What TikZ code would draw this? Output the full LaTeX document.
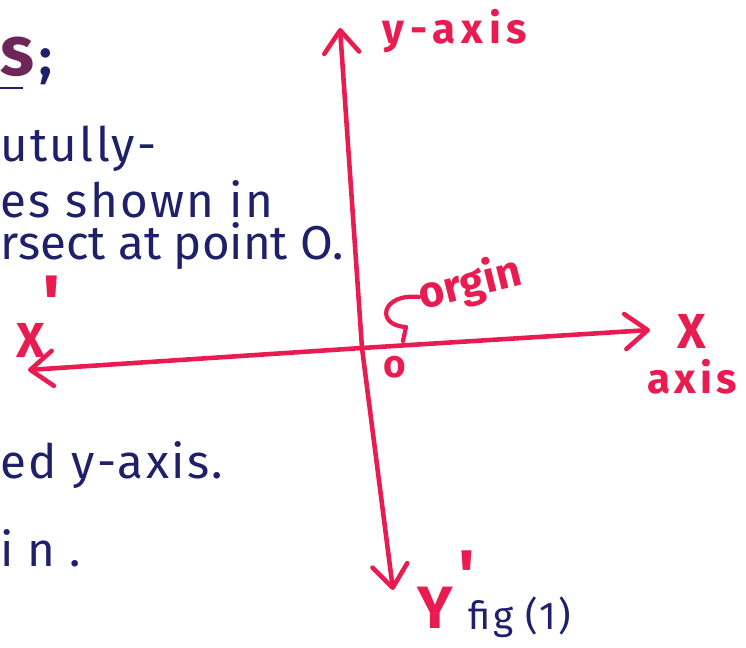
\documentclass[tikz,border=0pt]{standalone}
\usepackage{fontspec}
\setmainfont{Fira Sans}
\definecolor{inkred}{RGB}{232,28,80}
\definecolor{inkblue}{RGB}{30,32,105}
\definecolor{inkplum}{RGB}{110,38,88}
\usetikzlibrary{arrows.meta,positioning}

\begin{document}
\begin{tikzpicture}[
    >={Straight Barb[length=4.5mm,width=7mm,round]},
    axisline/.style={line width=2.6pt,draw=inkred,line cap=round,line join=round},
    redlabel/.style={text=inkred,inner sep=0pt,font=\fontsize{24}{28}\selectfont\bfseries},
    note/.style={text=inkblue,inner sep=0pt,anchor=west,font=\fontsize{27}{32}\selectfont\addfontfeature{LetterSpace=5}}
  ]
  \useasboundingbox (0,0) rectangle (14.92,12.96);

  % axes
  \coordinate (ytop) at (6.80,12.40);
  \coordinate (o) at (7.24,6.00);
  \coordinate (ybot) at (7.86,1.16);
  \coordinate (xleft) at (0.56,5.56);
  \coordinate (xright) at (13.00,6.36);
  \draw[axisline,<->] (ytop) -- (o) -- (ybot);
  \draw[axisline,<->] (xleft) -- (o) -- (xright);

  % axis labels
  \node[redlabel,font=\fontsize{24}{28}\selectfont\bfseries\addfontfeature{LetterSpace=14}] (ylab) at (9.10,12.34) {y-axis};
  \node[redlabel,font=\fontsize{28}{32}\selectfont\bfseries] (xlab) at (13.84,6.34) {X};
  \node[redlabel,font=\fontsize{24}{28}\selectfont\bfseries\addfontfeature{LetterSpace=10},below=6pt of xlab] (xaxis) {axis};
  \node[redlabel,font=\fontsize{28}{32}\selectfont\bfseries] (xp) at (0.62,6.16) {X};
  \node[redlabel,font=\fontsize{44}{48}\selectfont\bfseries] (xpr) at (1.04,6.90) {\textquotesingle};
  \node[redlabel,font=\fontsize{34}{38}\selectfont\bfseries] (yp) at (8.70,0.80) {Y};
  \node[redlabel,font=\fontsize{40}{44}\selectfont\bfseries] (ypr) at (9.34,1.46) {\textquotesingle};
  \node[redlabel,font=\fontsize{22}{26}\selectfont\bfseries] (olab) at (7.90,5.62) {o};
  \node[redlabel,font=\fontsize{25}{30}\selectfont\bfseries,rotate=14,anchor=west] (orgin) at (8.38,7.02) {orgin};
  \coordinate (curlend) at (8.06,6.14);
  \draw[axisline,line width=2.4pt] (orgin.west) .. controls (7.62,7.10) and (7.50,6.45) .. (8.12,6.42) -- (curlend);
  \node[text=inkblue,inner sep=0pt,font=\fontsize{22}{26}\selectfont\addfontfeature{LetterSpace=6}] (fig) at (10.40,0.62) {fig (1)};

  % notes at the left edge
  \node[note,text=inkplum,font=\fontsize{40}{44}\selectfont\bfseries] (s) at (0,11.82) {s};
  \draw[inkblue,line width=0.9pt] (0,11.20) -- (0.46,11.20);
  \node[note,anchor=center,font=\fontsize{30}{34}\selectfont\bfseries] (semi) at (0.92,11.62) {;};
  \node[note] (n1) at (0,9.98) {utully-};
  \node[note] (n2) at (0,8.98) {es shown in};
  \node[note,font=\fontsize{27}{32}\selectfont] (n3) at (0,8.04) {rsect at point O.};
  \node[note] (n4) at (0,3.66) {ed y-axis.};
  \node[note,font=\fontsize{27}{32}\selectfont\addfontfeature{LetterSpace=30}] (n5) at (0,2.00) {in.};
\end{tikzpicture}
\end{document}
